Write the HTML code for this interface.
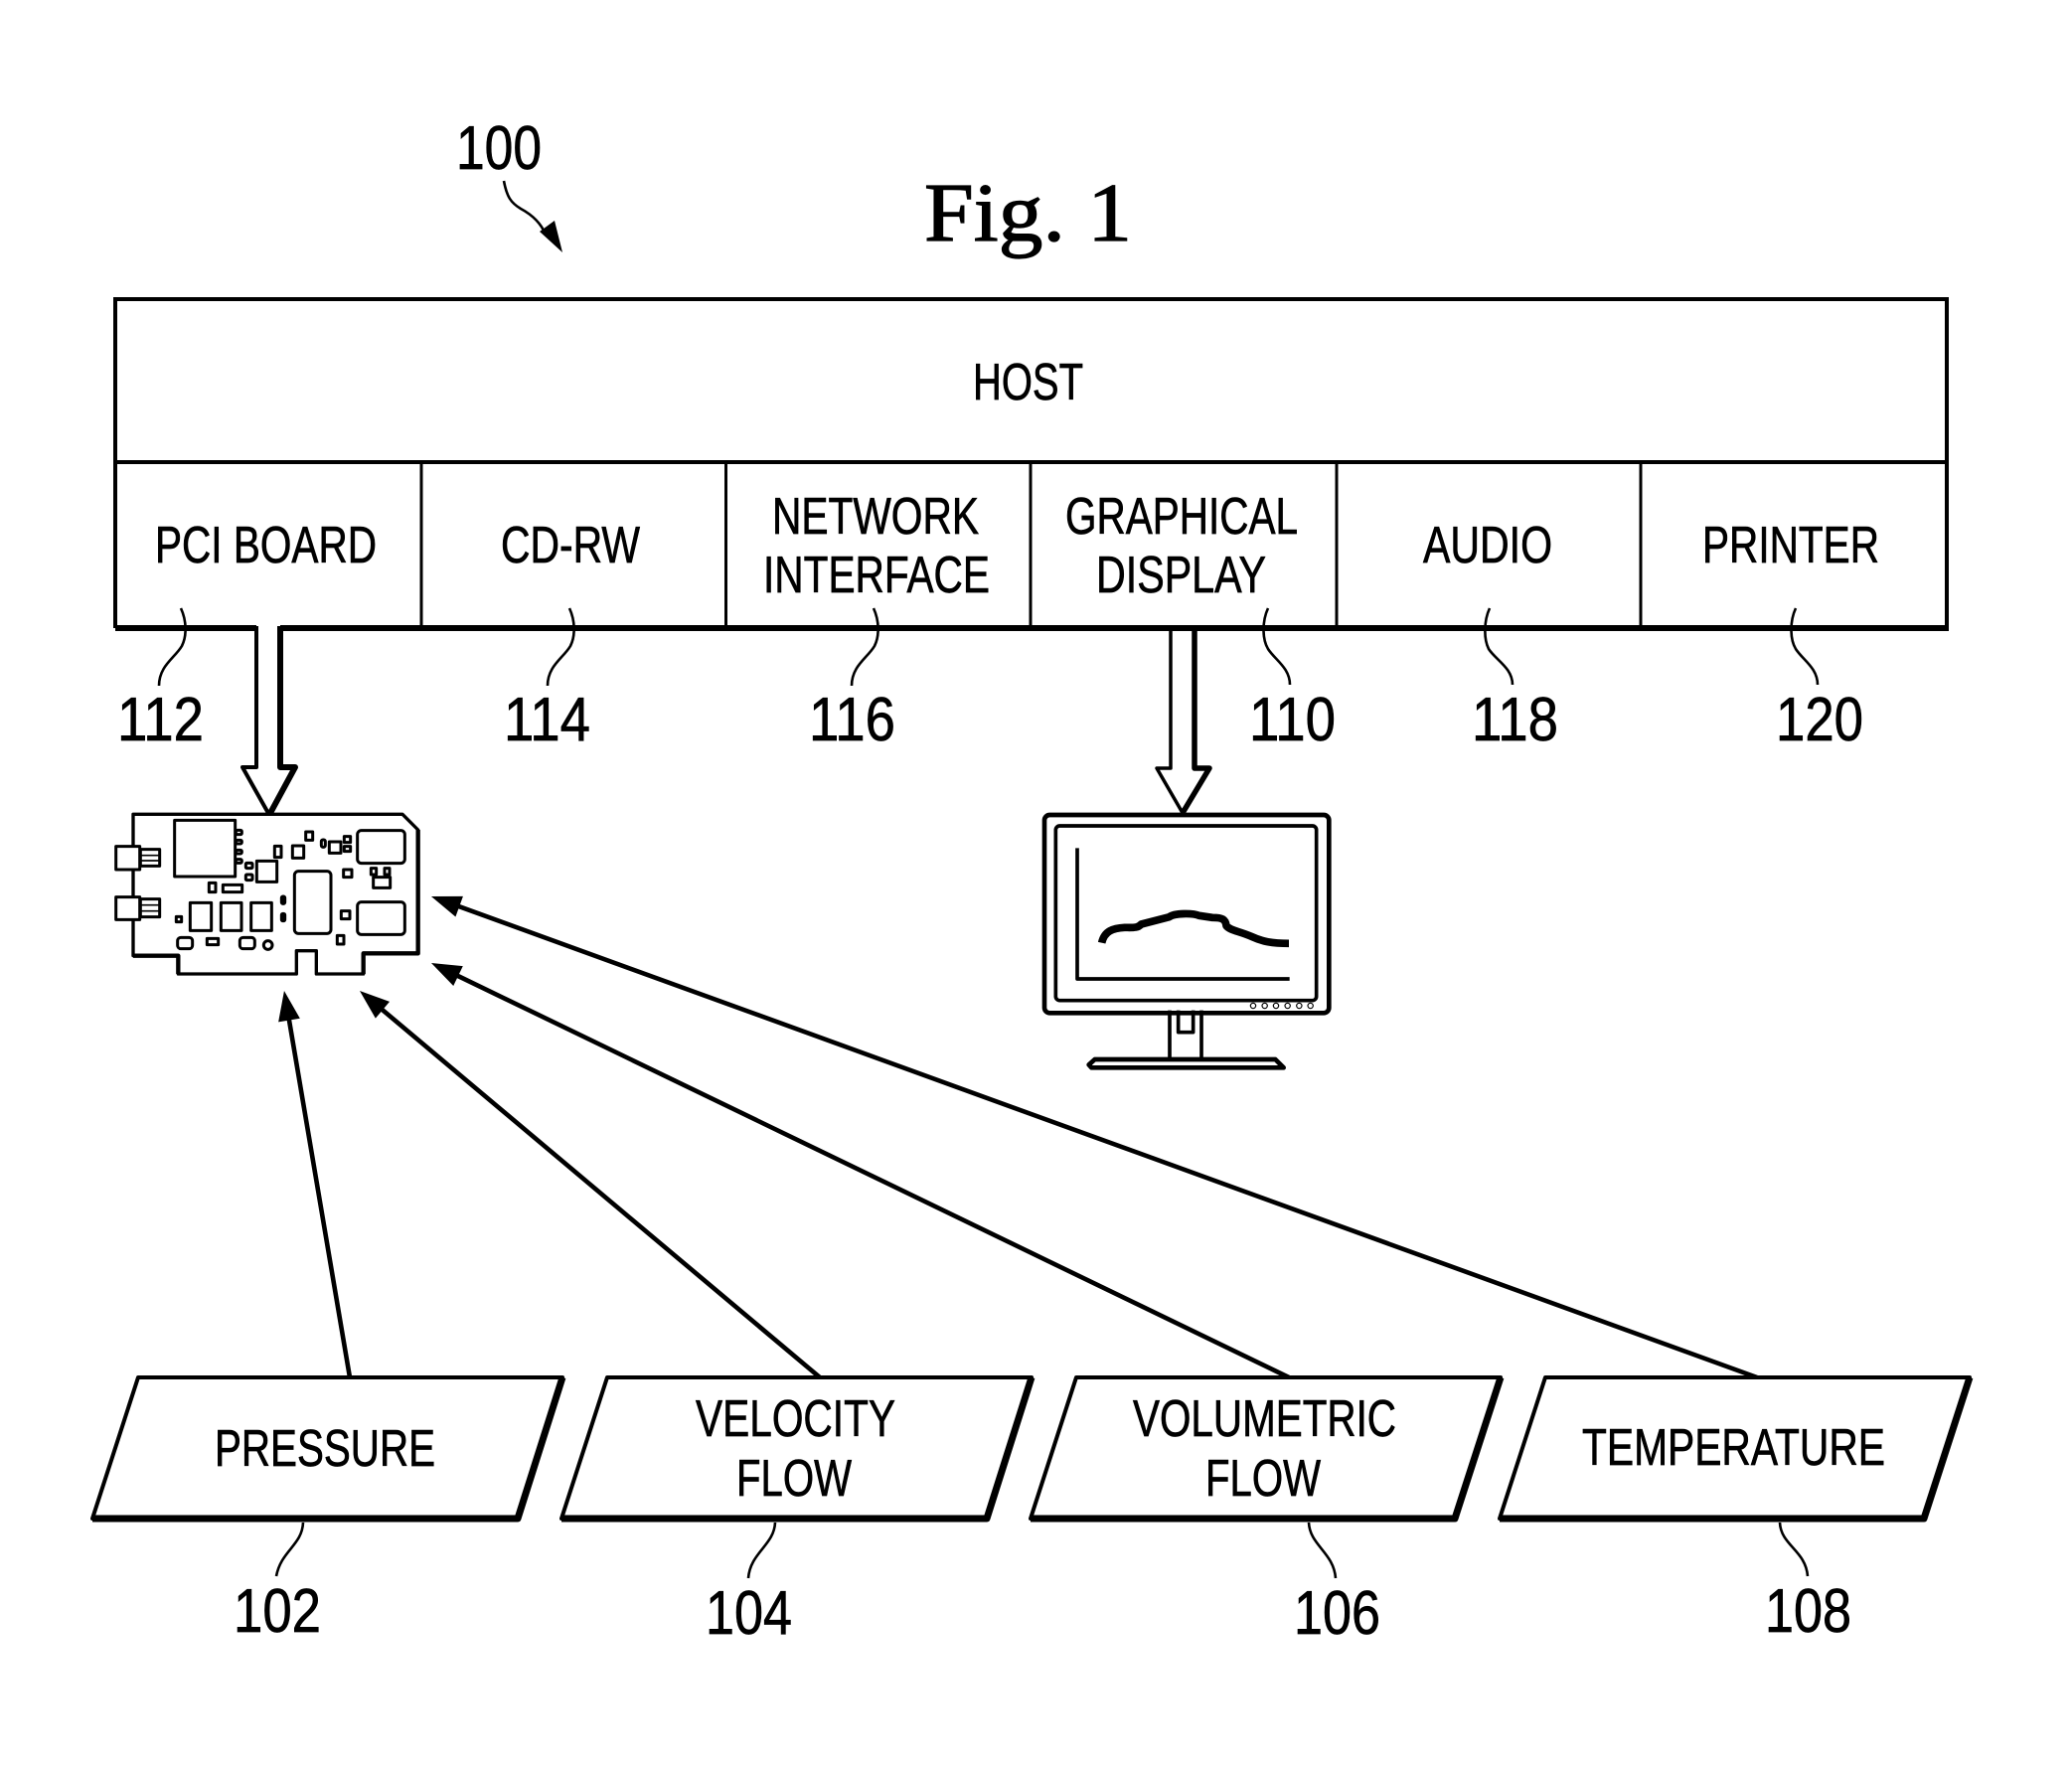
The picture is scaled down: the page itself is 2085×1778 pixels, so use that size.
<!DOCTYPE html>
<html><head><meta charset="utf-8"><style>
html,body{margin:0;padding:0;background:#fff}
svg{display:block}
text{font-family:"Liberation Sans",sans-serif;font-size:52px;fill:#000;stroke:#000;stroke-width:.7px}
.n{font-size:62px}
.f{font-family:"Liberation Serif",serif;font-size:84px;stroke:#000;stroke-width:1.2px}
.l{fill:none;stroke:#000;stroke-width:2.6}
</style></head><body>
<svg width="2085" height="1778" viewBox="0 0 2085 1778" xmlns="http://www.w3.org/2000/svg">
<defs><marker id="a" markerUnits="userSpaceOnUse" markerWidth="40" markerHeight="26" refX="26" refY="13" orient="auto"><path d="M34,13 L4,2 L4,24 Z" fill="#000"/></marker></defs>
<rect width="2085" height="1778" fill="#fff"/>

<!-- title -->
<text class="n" x="459" y="170" textLength="86" lengthAdjust="spacingAndGlyphs">100</text>
<text class="f" x="930" y="242" textLength="209" lengthAdjust="spacingAndGlyphs">Fig. 1</text>
<path class="l" d="M507,182 C510,198 514,204 524,210 C537,217 545,226 549,236"/>
<path d="M566,254 L543,233 L558,222 Z" fill="#000"/>

<!-- host -->
<g fill="none" stroke="#000">
<path d="M116,632 V301 H1959 V632" stroke-width="4"/>
<path d="M116,465 H1959" stroke-width="4"/>
<path d="M424,465 V632 M730.5,465 V632 M1037,465 V632 M1345,465 V632 M1651,465 V632" stroke-width="3"/>
<path d="M116,632 H258 M282,632 H1961" stroke-width="6"/>
</g>
<text x="979" y="402" textLength="111" lengthAdjust="spacingAndGlyphs">HOST</text>
<text x="156" y="566" textLength="223" lengthAdjust="spacingAndGlyphs">PCI BOARD</text>
<text x="504" y="566" textLength="140" lengthAdjust="spacingAndGlyphs">CD-RW</text>
<text x="777" y="537" textLength="208" lengthAdjust="spacingAndGlyphs">NETWORK</text>
<text x="768" y="596" textLength="228" lengthAdjust="spacingAndGlyphs">INTERFACE</text>
<text x="1072" y="537" textLength="234" lengthAdjust="spacingAndGlyphs">GRAPHICAL</text>
<text x="1103" y="596" textLength="171" lengthAdjust="spacingAndGlyphs">DISPLAY</text>
<text x="1432" y="566" textLength="130" lengthAdjust="spacingAndGlyphs">AUDIO</text>
<text x="1713" y="566" textLength="178" lengthAdjust="spacingAndGlyphs">PRINTER</text>

<text class="n" x="118" y="745" textLength="87" lengthAdjust="spacingAndGlyphs">112</text>
<text class="n" x="507" y="745" textLength="87" lengthAdjust="spacingAndGlyphs">114</text>
<text class="n" x="814" y="745" textLength="87" lengthAdjust="spacingAndGlyphs">116</text>
<text class="n" x="1257" y="745" textLength="87" lengthAdjust="spacingAndGlyphs">110</text>
<text class="n" x="1481" y="745" textLength="87" lengthAdjust="spacingAndGlyphs">118</text>
<text class="n" x="1787" y="745" textLength="88" lengthAdjust="spacingAndGlyphs">120</text>

<!-- leaders top -->
<path class="l" d="M182,612 C188,625 188,640 183,650 C176,662 160,670 160,690"/>
<path class="l" d="M573,612 C579,625 579,640 574,650 C567,662 551,670 551,690"/>
<path class="l" d="M879,612 C885,625 885,640 880,650 C873,662 857,670 857,690"/>
<path class="l" d="M1276,612 C1270,625 1270,643 1276,653 C1283,664 1298,672 1298,689"/>
<path class="l" d="M1499,612 C1493,625 1493,643 1498,653 C1505,664 1522,672 1522,689"/>
<path class="l" d="M1807,612 C1801,625 1801,643 1807,653 C1814,664 1829,672 1829,689"/>

<!-- block arrow 112 -->
<g fill="none" stroke="#000" stroke-linejoin="round">
<path d="M258,630 V772 H244 L271,820" stroke-width="4"/>
<path d="M282,630 V772 H297 L271,820" stroke-width="6"/>
</g>

<!-- PCI card -->
<g transform="translate(80,780) scale(.33333)" fill="#fff" stroke="#000" stroke-width="10" stroke-linejoin="round">
<path d="M162,118 H975 L1022,165 V538 H857 V600 H715 V530 H655 V600 H298 V545 H162 Z"/>
<path d="M1022,165 V538 H857 V600 M298,600 V545 H162" fill="none" stroke-width="13"/>
<g stroke-width="9">
<rect x="110" y="215" width="72" height="70"/>
<rect x="184" y="224" width="58" height="50"/>
<path d="M186,242 H240 M186,258 H240" stroke-width="5"/>
<rect x="110" y="368" width="72" height="68"/>
<rect x="184" y="374" width="58" height="54"/>
<path d="M186,392 H240 M186,410 H240" stroke-width="5"/>
<rect x="287" y="136" width="183" height="170"/>
<rect x="472" y="166" width="18" height="13" rx="4"/>
<rect x="472" y="196" width="18" height="11" rx="4"/>
<rect x="472" y="226" width="18" height="11" rx="4"/>
<rect x="472" y="254" width="18" height="11" rx="4"/>
<rect x="502" y="265" width="20" height="16" rx="3"/>
<rect x="502" y="300" width="20" height="17" rx="3"/>
<rect x="535" y="259" width="61" height="63"/>
<rect x="589" y="214" width="20" height="34"/>
<rect x="643" y="213" width="34" height="37"/>
<rect x="683" y="171" width="21" height="25"/>
<rect x="730" y="195" width="12" height="22" rx="5"/>
<rect x="754" y="201" width="35" height="34"/>
<rect x="799" y="185" width="19" height="18"/>
<rect x="799" y="215" width="19" height="15"/>
<rect x="839" y="167" width="143" height="99" rx="12"/>
<rect x="797" y="285" width="25" height="23"/>
<rect x="880" y="281" width="16" height="19"/>
<rect x="921" y="281" width="15" height="19"/>
<rect x="887" y="308" width="51" height="32"/>
<rect x="391" y="325" width="20" height="28"/>
<rect x="433" y="331" width="58" height="22"/>
<rect x="649" y="290" width="110" height="188" rx="12"/>
<rect x="610" y="366" width="10" height="22" rx="4" fill="#000"/>
<rect x="610" y="418" width="10" height="22" rx="4" fill="#000"/>
<rect x="334" y="385" width="64" height="84"/>
<rect x="427" y="385" width="62" height="84"/>
<rect x="518" y="385" width="62" height="84"/>
<rect x="292" y="427" width="16" height="16"/>
<rect x="790" y="410" width="26" height="24"/>
<rect x="839" y="383" width="143" height="98" rx="12"/>
<rect x="296" y="490" width="45" height="34" rx="10"/>
<rect x="385" y="493" width="34" height="19"/>
<rect x="484" y="490" width="45" height="34" rx="10"/>
<circle cx="569" cy="513" r="13"/>
<rect x="778" y="484" width="20" height="26"/>
</g>
</g>

<!-- block arrow 110 -->
<g fill="none" stroke="#000" stroke-linejoin="round">
<path d="M1178,632 V773 H1164 L1190,818" stroke-width="3.5"/>
<path d="M1202,632 V773 H1217 L1190,818" stroke-width="5.5"/>
</g>

<!-- monitor -->
<g transform="translate(1030,760) scale(.33333)" fill="none" stroke="#000" stroke-linejoin="round">
<rect x="63" y="180" width="859" height="598" rx="16" stroke-width="14"/>
<rect x="97" y="213" width="787" height="527" rx="12" stroke-width="11"/>
<path d="M162,280 V675 H803" stroke-width="11"/>
<path d="M236,566 C244,530 270,522 305,520 C330,520 345,522 355,510 L440,488 C455,476 510,476 530,484 L570,490 C600,490 610,495 612,515 C625,530 650,530 690,548 C720,562 750,568 801,568" stroke-width="23"/>
<g stroke-width="3.5"><circle cx="693" cy="756" r="8"/><circle cx="728" cy="756" r="8"/><circle cx="762" cy="756" r="8"/><circle cx="797" cy="756" r="8"/><circle cx="832" cy="756" r="8"/><circle cx="866" cy="756" r="8"/></g>
<path d="M441,770 V918 M537,770 V918" stroke-width="11"/>
<path d="M467,770 V836 H512 V770" stroke-width="11"/>
<path d="M215,918 H760 L785,943 H205 L197,934 Z" stroke-width="14"/>
</g>

<!-- signal arrows -->
<g stroke="#000" stroke-width="4.6" fill="none">
<line x1="352" y1="1386" x2="287.3" y2="1004.9" marker-end="url(#a)"/>
<line x1="825" y1="1386" x2="368.1" y2="1002.1" marker-end="url(#a)"/>
<line x1="1297" y1="1386" x2="441.2" y2="972.5" marker-end="url(#a)"/>
<line x1="1768" y1="1386" x2="441.5" y2="904.7" marker-end="url(#a)"/>
</g>

<!-- parallelograms -->
<g fill="#fff" stroke="#000" stroke-linejoin="round">
<path d="M139,1386 H566 L521,1528 H93 Z" stroke-width="4"/>
<path d="M566,1386 L521,1528 H93" fill="none" stroke-width="7"/>
<path d="M611,1386 H1038 L993,1528 H565 Z" stroke-width="4"/>
<path d="M1038,1386 L993,1528 H565" fill="none" stroke-width="7"/>
<path d="M1083,1386 H1510 L1464,1528 H1037 Z" stroke-width="4"/>
<path d="M1510,1386 L1464,1528 H1037" fill="none" stroke-width="7"/>
<path d="M1555,1386 H1982 L1936,1528 H1509 Z" stroke-width="4"/>
<path d="M1982,1386 L1936,1528 H1509" fill="none" stroke-width="7"/>
</g>
<text x="216" y="1475" textLength="222" lengthAdjust="spacingAndGlyphs">PRESSURE</text>
<text x="700" y="1445" textLength="201" lengthAdjust="spacingAndGlyphs">VELOCITY</text>
<text x="741" y="1505" textLength="116" lengthAdjust="spacingAndGlyphs">FLOW</text>
<text x="1140" y="1445" textLength="265" lengthAdjust="spacingAndGlyphs">VOLUMETRIC</text>
<text x="1213" y="1505" textLength="116" lengthAdjust="spacingAndGlyphs">FLOW</text>
<text x="1592" y="1474" textLength="305" lengthAdjust="spacingAndGlyphs">TEMPERATURE</text>

<path class="l" d="M305,1532 C304,1555 283,1560 278,1586"/>
<path class="l" d="M780,1532 C779,1555 755,1562 753,1588"/>
<path class="l" d="M1317,1532 C1318,1555 1342,1562 1344,1588"/>
<path class="l" d="M1791,1532 C1792,1555 1817,1560 1819,1586"/>

<text class="n" x="235" y="1642" textLength="88" lengthAdjust="spacingAndGlyphs">102</text>
<text class="n" x="710" y="1644" textLength="87" lengthAdjust="spacingAndGlyphs">104</text>
<text class="n" x="1302" y="1644" textLength="87" lengthAdjust="spacingAndGlyphs">106</text>
<text class="n" x="1776" y="1642" textLength="87" lengthAdjust="spacingAndGlyphs">108</text>
</svg>
</body></html>
